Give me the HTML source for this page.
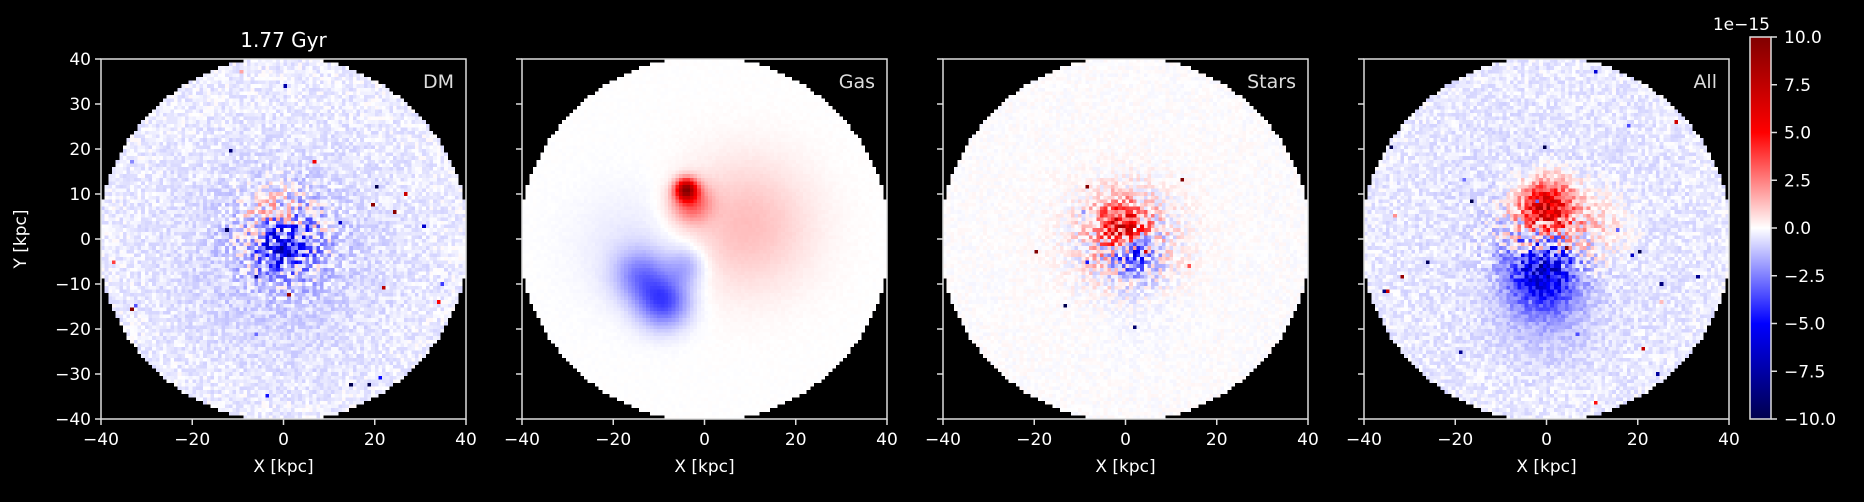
<!DOCTYPE html>
<html><head><meta charset="utf-8"><style>
body{margin:0;background:#000;width:1864px;height:497px;overflow:hidden;font-family:"Liberation Sans","DejaVu Sans",sans-serif}
svg text{fill:#fff;font-family:"DejaVu Sans","Liberation Sans",sans-serif}
</style></head><body>
<svg id="fig" width="1864" height="497" xmlns="http://www.w3.org/2000/svg">
<defs>
<linearGradient id="seis" x1="0" y1="1" x2="0" y2="0">
<stop offset="0" stop-color="#00004d"/><stop offset="0.25" stop-color="#0000ff"/><stop offset="0.5" stop-color="#ffffff"/><stop offset="0.75" stop-color="#ff0000"/><stop offset="1" stop-color="#800000"/>
</linearGradient>
</defs>
</svg>
<script>
// panel data
const panelNames=["DM","Gas","Stars","All"];
const xTicks=[-40,-20,0,20,40];
const yTicks=[-40,-30,-20,-10,0,10,20,30,40];
const cbTicks=[-10,-7.5,-5,-2.5,0,2.5,5,7.5,10];
const cbLabels=["\u221210.0","\u22127.5","\u22125.0","\u22122.5","0.0","2.5","5.0","7.5","10.0"];
// blob components per panel: [x, y, sigma, amplitude]
const blobsDM=[[0,-1,3.5,-4],[-3,6,4,1.5],[0,-5,14,-0.6],[0,0,40,-0.5]];
const blobsGas=[[-4,11,1.6,8],[-3,8,3,3],[9,3,10,1.3],[-9,-14,4,-3.5],[-14,-8,4,-2.2],[-4,-6,3,-1.5],[-15,-2,9,-0.5]];
const blobsStars=[[-1,3,3.5,5],[2,-4,3,-3.5],[0,0,11,0.3],[3,-14,7,-0.3]];
const blobsAll=[[0,7,4,7],[10,3,6,1.2],[-1,-8,5,-5],[0,-16,7,-1],[0,0,40,-0.6]];
const noiseAmp=[0.5,0.05,0.2,0.5];
const allBlobs=[blobsDM,blobsGas,blobsStars,blobsAll];

const NS="http://www.w3.org/2000/svg";
const svg=document.getElementById('fig');
const P0=101,PW=365,PT=59,PH=360,GAP=421;
function mk(t,a,parent){const e=document.createElementNS(NS,t);for(const k in a)e.setAttribute(k,a[k]);(parent||svg).appendChild(e);return e;}
function cmap(v){let t=Math.max(-1,Math.min(1,v/10));let r,g,b;
 if(t<-0.5){const s=(t+1)/0.5;r=0;g=0;b=0.3+0.7*s;}
 else if(t<0){const s=(t+0.5)/0.5;r=s;g=s;b=1;}
 else if(t<0.5){const s=t/0.5;r=1;g=1-s;b=1-s;}
 else{const s=(t-0.5)/0.5;r=1-0.5*s;g=0;b=0;}
 return `rgb(${Math.round(r*255)},${Math.round(g*255)},${Math.round(b*255)})`;}
function hash(i,j,k){let h=Math.sin(i*127.1+j*311.7+k*74.7)*43758.5453;return h-Math.floor(h);}
const N=100;
for(let p=0;p<4;p++){
 const x0=P0+p*GAP;
 const sx=v=>x0+(v+40)/80*PW, sy=v=>PT+(40-v)/80*PH;
 const g=mk('g',{});
 
 
 const cv=document.createElement('canvas');cv.width=N;cv.height=N;const c=cv.getContext('2d');
 for(let i=0;i<N;i++)for(let j=0;j<N;j++){
  const x=-40+(i+0.5)*0.8,y=40-(j+0.5)*0.8;
  if(x*x+y*y>40.5*40.5)continue;
  let v=0;for(const b of allBlobs[p]){const d=((x-b[0])**2+(y-b[1])**2)/(2*b[2]*b[2]);v+=b[3]*Math.exp(-d);}
  const r=Math.sqrt(x*x+y*y);
  v+=(hash(i,j,p)-0.5)*2*(noiseAmp[p]+(p===1?0:4)*Math.exp(-r*r/90));
  const sp=hash(j,i,p+9);
  if(p!==1&&sp>0.996&&(p!==2||r<22))v+=(hash(i+1,j,p)-0.5)*22;
  c.fillStyle=cmap(v);c.fillRect(i,j,1,1);}
 const img=mk('image',{x:x0,y:PT,width:PW,height:PH,href:cv.toDataURL(),preserveAspectRatio:'none','image-rendering':'pixelated'},g);
 
 
 mk('rect',{x:x0,y:PT,width:PW,height:PH,fill:'none',stroke:'#ddd','stroke-width':1.5},g);
 const lab=mk('text',{x:x0+PW-12,y:PT+29,'text-anchor':'end','font-size':19,style:'fill:#ddd'},g);lab.textContent=panelNames[p];
 
 
 for(const t of xTicks){mk('line',{x1:sx(t),x2:sx(t),y1:PT+PH,y2:PT+PH+6,stroke:'#ddd','stroke-width':1.5},g);
  const tx=mk('text',{x:sx(t),y:PT+PH+26,'text-anchor':'middle','font-size':17},g);tx.textContent=(t<0?'\u2212'+(-t):t);}
 const xl=mk('text',{x:x0+PW/2,y:PT+PH+53,'text-anchor':'middle','font-size':17},g);xl.textContent='X [kpc]';
 
 
 for(const t of yTicks){mk('line',{x1:x0-6,x2:x0,y1:sy(t),y2:sy(t),stroke:'#ddd','stroke-width':1.5},g);
  if(p===0){const ty=mk('text',{x:x0-10,y:sy(t)+6,'text-anchor':'end','font-size':17},g);ty.textContent=(t<0?'\u2212'+(-t):t);}}
}
const title=mk('text',{x:P0+PW/2,y:47,'text-anchor':'middle','font-size':20});title.textContent='1.77 Gyr';


const yl=mk('text',{x:0,y:0,'text-anchor':'middle','font-size':17,transform:`translate(26,${PT+PH/2}) rotate(-90)`});yl.textContent='Y [kpc]';


// colorbar
const CX=1750,CW=21,CT=37,CB=419;
const cb=mk('rect',{x:CX,y:CT,width:CW,height:CB-CT,fill:'url(#seis)',stroke:'#ddd','stroke-width':1.5});


cbTicks.forEach((t,i)=>{const y=CB-(t+10)/20*(CB-CT);
 mk('line',{x1:CX+CW,x2:CX+CW+6,y1:y,y2:y,stroke:'#ddd','stroke-width':1.5});
 const tt=mk('text',{x:CX+CW+13,y:y+6,'font-size':17});tt.textContent=cbLabels[i];});
const off=mk('text',{x:CX+CW-1,y:30,'text-anchor':'end','font-size':17});off.textContent='1e\u221215';


</script>
</body></html>
